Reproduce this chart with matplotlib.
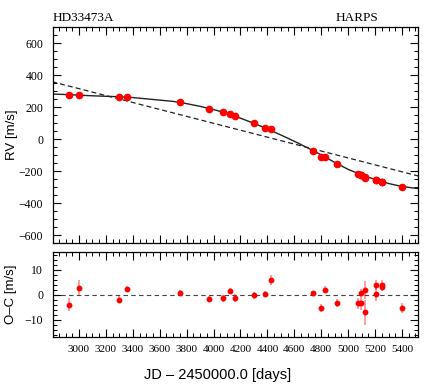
import matplotlib
matplotlib.use("Agg")
import matplotlib.pyplot as plt
from matplotlib.ticker import MultipleLocator
import numpy as np

# Observations
jd = [2928, 3000, 3295, 3357, 3750, 3966, 4067, 4122, 4159, 4300, 4380, 4424,
      4737, 4799, 4828, 4918, 5076, 5094, 5096, 5125, 5127, 5204, 5204, 5249,
      5251, 5397]
rv = [272, 276, 262, 264, 229, 189, 168, 156, 141, 98, 70, 60,
      -75, -110, -114, -158, -220, -222, -226, -239, -245, -255, -259, -266,
      -267, -303]
oc = [-4.0, 2.5, -2.0, 2.2, 0.8, -1.8, -1.5, 1.5, -1.5, -0.3, 0.3, 6.0,
      0.7, -5.3, 2.0, -3.3, -3.5, -3.3, 0.8, 1.8, -7.0, 3.8, 0.3, 3.8,
      3.0, -5.2]
oc_err = [2.6, 3.2, 1.5, 1.3, 1.0, 1.2, 1.3, 1.3, 1.6, 1.3, 1.3, 2.0,
          0.8, 1.5, 1.5, 1.5, 2.1, 2.8, 1.5, 3.6, 5.0, 2.0, 3.0, 2.0,
          1.5, 2.0]

# Fitted Keplerian curve
model_jd = [2800, 2900, 3000, 3100, 3200, 3300, 3400, 3500, 3600, 3700, 3800,
            3900, 4000, 4100, 4200, 4300, 4400, 4500, 4600, 4700, 4800, 4900,
            5000, 5100, 5200, 5300, 5400, 5520]
model_rv = [281, 278, 274, 270, 267, 264, 259, 251, 243, 235, 221,
            204, 184, 161, 130, 98, 63, 25, -14, -56, -99, -146,
            -190, -224, -253, -278, -297, -310]

# Linear trend (dashed)
trend_jd = [2800, 5520]
trend_rv = [358, -231]

xlim = (2807, 5519)

W, H = 436, 385
fig = plt.figure(figsize=(W / 100, H / 100), dpi=100)
ax1 = fig.add_axes([53 / W, 1 - 243 / H, 365 / W, 216 / H])
ax2 = fig.add_axes([53 / W, 1 - 337 / H, 365 / W, 85 / H])

serif = "Liberation Serif"
sans = "Liberation Sans"

ax1.plot(model_jd, model_rv, color="#222222", lw=1.0, zorder=2)
ax1.plot(trend_jd, trend_rv, color="#222222", lw=0.9, ls=(0, (4, 2.5)), zorder=2)
ax1.plot(jd, rv, "o", color="red", ms=4.5, mec="red", zorder=3)
ax1.set_xlim(*xlim)
ax1.set_ylim(-650, 700)
ax1.tick_params(labelbottom=False)
ax1.yaxis.set_major_locator(MultipleLocator(200))
ax1.yaxis.set_minor_locator(MultipleLocator(50))

ax1.text(0.0, 1.012, "HD33473A", transform=ax1.transAxes, ha="left", va="bottom",
         fontfamily=serif, fontsize=9.5)
ax1.text(0.773, 1.012, "HARPS", transform=ax1.transAxes, ha="left", va="bottom",
         fontfamily=serif, fontsize=9.5)

ax2.axhline(0, color="#444444", lw=0.8, ls=(0, (4, 3)), zorder=1)
ax2.errorbar(jd, oc, yerr=oc_err, fmt="o", color="red", ms=3.2,
             ecolor=(1, 0, 0, 0.45), elinewidth=1.2, capsize=0, zorder=3)
ax2.set_xlim(*xlim)
ax2.set_ylim(-17, 17)
ax2.yaxis.set_major_locator(MultipleLocator(10))
ax2.yaxis.set_minor_locator(MultipleLocator(2))

fig.text(12 / W, 1 - 135 / H, "RV [m/s]", rotation=90, ha="center", va="center",
         fontfamily=sans, fontsize=9.5)
fig.text(11 / W, 1 - 294 / H, "O\u2013C [m/s]", rotation=90, ha="center", va="center",
         fontfamily=sans, fontsize=9.5)
fig.text(218 / W, 1 - 375 / H, "JD \u2013 2450000.0 [days]", ha="center", va="center",
         fontfamily=sans, fontsize=10.5)

for ax in (ax1, ax2):
    ax.xaxis.set_major_locator(MultipleLocator(200))
    ax.xaxis.set_minor_locator(MultipleLocator(50))
    ax.tick_params(which="both", direction="in", top=True, right=True)
    ax.tick_params(which="major", length=6, width=0.8)
    ax.tick_params(which="minor", length=3, width=0.7)
    ax.tick_params(axis="y", which="major", pad=7)
    for lab in ax.get_yticklabels():
        lab.set_fontfamily(serif)
        lab.set_fontsize(8.5)
    for lab in ax.get_xticklabels():
        lab.set_fontfamily(serif)
        lab.set_fontsize(8)
    for s in ax.spines.values():
        s.set_linewidth(0.9)

ax2.tick_params(axis="x", which="major", pad=6)

fig.savefig("out.png", dpi=100)
